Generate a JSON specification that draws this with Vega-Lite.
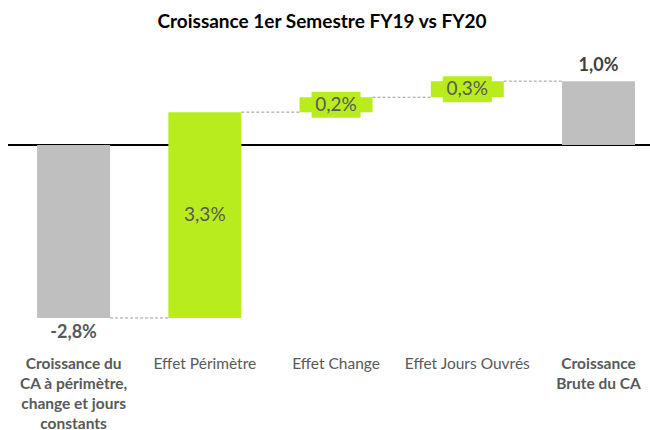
{
  "$schema": "https://vega.github.io/schema/vega-lite/v6.json",
  "width": 642,
  "height": 275,
  "autosize": {"type": "none"},
  "padding": {"left": 8, "top": 45, "right": 0, "bottom": 110},
  "background": "white",
  "title": {
    "text": "Croissance 1er Semestre FY19 vs FY20",
    "font": "Lato",
    "fontSize": 19,
    "fontWeight": "bold",
    "color": "#000000",
    "anchor": "middle",
    "dx": -7,
    "offset": 13
  },
  "config": {"view": {"stroke": null}, "font": "Lato"},
  "data": {
    "values": [
      {"cat": "Croissance du|CA à périmètre,|change et jours|constants", "start": 0, "end": -2.79, "label": "-2,8%", "kind": "total", "next": "Effet Périmètre"},
      {"cat": "Effet Périmètre", "start": -2.79, "end": 0.53, "label": "3,3%", "kind": "delta", "next": "Effet Change"},
      {"cat": "Effet Change", "start": 0.53, "end": 0.77, "label": "0,2%", "kind": "delta", "next": "Effet Jours Ouvrés"},
      {"cat": "Effet Jours Ouvrés", "start": 0.77, "end": 1.03, "label": "0,3%", "kind": "delta", "next": "Croissance|Brute du CA"},
      {"cat": "Croissance|Brute du CA", "start": 0, "end": 1.03, "label": "1,0%", "kind": "total", "next": null}
    ]
  },
  "transform": [{"calculate": "(datum.start + datum.end) / 2", "as": "mid"}],
  "encoding": {
    "x": {
      "field": "cat",
      "type": "nominal",
      "sort": null,
      "title": null,
      "scale": {"paddingInner": 0.444, "paddingOuter": 0.168, "align": 0.66},
      "axis": {
        "orient": "bottom",
        "domain": false,
        "ticks": false,
        "labelAngle": 0,
        "labelPadding": 36,
        "labelLimit": 0,
        "labelFont": "Lato",
        "labelFontSize": 15.5,
        "labelColor": "#595959",
        "labelLineHeight": 20,
        "labelExpr": "split(datum.label, '|')",
        "labelFontWeight": {"condition": {"test": "indexof(datum.value, 'Croissance') == 0", "value": "bold"}, "value": "normal"}
      }
    }
  },
  "layer": [
    {
      "mark": {"type": "rule", "color": "#000000", "strokeWidth": 2},
      "encoding": {
        "x": null,
        "y": {"datum": 0, "type": "quantitative", "scale": {"domain": [-2.823, 1.613], "nice": false, "zero": false}, "axis": null}
      }
    },
    {
      "transform": [{"filter": "datum.next != null"}],
      "mark": {"type": "rule", "color": "#9a9a9a", "strokeWidth": 1, "strokeDash": [3, 2]},
      "encoding": {
        "x": {"field": "cat", "type": "nominal", "sort": null, "bandPosition": 1},
        "x2": {"field": "next", "bandPosition": 0},
        "y": {"field": "end", "type": "quantitative"}
      }
    },
    {
      "mark": {"type": "bar"},
      "encoding": {
        "y": {"field": "start", "type": "quantitative"},
        "y2": {"field": "end"},
        "color": {
          "field": "kind",
          "type": "nominal",
          "scale": {"domain": ["total", "delta"], "range": ["#bfbfbf", "#b9ec1d"]},
          "legend": null
        }
      }
    },
    {
      "transform": [{"filter": "datum.kind == 'delta' && abs(datum.end - datum.start) < 1"}],
      "mark": {"type": "point", "shape": "M-1,-0.531H1V0.531H-1Z", "size": 2401, "filled": true, "color": "#b9ec1d", "opacity": 1, "strokeWidth": 0},
      "encoding": {"y": {"field": "mid", "type": "quantitative"}}
    },
    {
      "transform": [{"filter": "datum.kind == 'delta'"}],
      "mark": {"type": "text", "font": "Lato", "fontSize": 19, "color": "#595959", "baseline": "middle"},
      "encoding": {
        "y": {"field": "mid", "type": "quantitative"},
        "text": {"field": "label"}
      }
    },
    {
      "transform": [{"filter": "datum.kind == 'total' && datum.end < 0"}],
      "mark": {"type": "text", "font": "Lato", "fontSize": 18, "fontWeight": "bold", "color": "#595959", "baseline": "top", "dy": 6},
      "encoding": {
        "y": {"field": "end", "type": "quantitative"},
        "text": {"field": "label"}
      }
    },
    {
      "transform": [{"filter": "datum.kind == 'total' && datum.end > 0"}],
      "mark": {"type": "text", "font": "Lato", "fontSize": 18, "fontWeight": "bold", "color": "#404040", "baseline": "bottom", "dy": -6},
      "encoding": {
        "y": {"field": "end", "type": "quantitative"},
        "text": {"field": "label"}
      }
    }
  ]
}
